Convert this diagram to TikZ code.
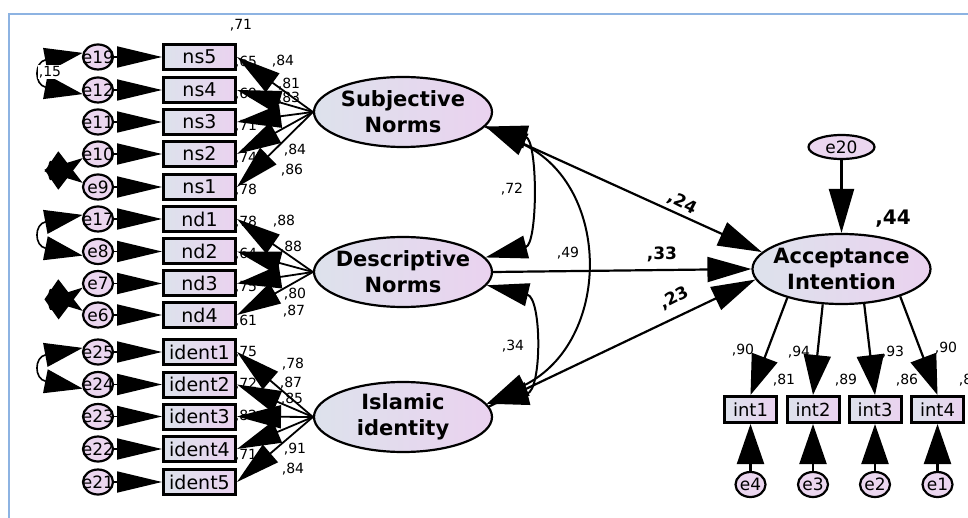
\documentclass[tikz,border=0pt]{standalone}
\usepackage{fontspec}
\setmainfont{DejaVu Sans}
\usetikzlibrary{arrows.meta,shapes.geometric}
\definecolor{framec}{HTML}{8DB3E2}
\definecolor{cgray}{HTML}{DDE2EC}
\definecolor{cpurp}{HTML}{EAD2EF}
\definecolor{cpink}{HTML}{EBD6EF}
\newcommand{\fz}[1]{\fontsize{#1}{#1}\selectfont}
\newcommand{\zw}[1]{\makebox[0pt]{#1}}
\begin{document}
\begin{tikzpicture}[x=1pt,y=-1pt,
  latent/.style={ellipse, draw, line width=2.2pt, minimum width=178pt, minimum height=70pt,
     inner xsep=-20pt, inner ysep=0pt, left color=cgray, right color=cpurp, align=center,
     font=\fontsize{21}{26}\selectfont\bfseries},
  obsbox/.style={rectangle, draw, line width=3pt, minimum width=72pt, minimum height=25pt,
     inner sep=0pt, left color=cgray, right color=cpurp, font=\fz{19}},
  intbox/.style={obsbox, minimum width=52pt, minimum height=26pt, font=\fz{18}},
  err/.style={ellipse, draw, line width=2.2pt, minimum width=30pt, minimum height=25pt,
     inner sep=0pt, fill=cpink, font=\fz{17}},
  errtop/.style={err, minimum width=66pt, minimum height=24pt},
  num/.style={font=\fz{14}, inner sep=0pt},
  bnum/.style={font=\fz{17}\bfseries, inner sep=0pt},
  errarr/.style={line width=1.8pt, -{Triangle[length=45pt,width=21pt]}},
  ind/.style={line width=1.8pt, -{Triangle[length=44pt,width=23pt]}},
  patharr/.style={line width=2.2pt, -{Triangle[length=44pt,width=25pt]}},
  intarr/.style={line width=2.2pt, -{Triangle[length=40pt,width=27pt]}},
  cov/.style={line width=2pt, {Triangle[length=42pt,width=23pt]}-{Triangle[length=42pt,width=23pt]}},
  ecov/.style={line width=1.6pt, {Triangle[length=38pt,width=24pt]}-{Triangle[length=38pt,width=24pt]}}
]
\useasboundingbox (0,0) rectangle (968,518);
\draw[framec, line width=2pt] (9,518) -- (9,14) -- (968,14);

% latent variables
\node[latent] (SN) at (403,112) {Subjective\\Norms};
\node[latent] (DN) at (403,272) {Descriptive\\Norms};
\node[latent] (II) at (403,417) {Islamic\\identity};
\node[latent] (AI) at (841.5,269) {Acceptance\\Intention};
\node[errtop] (e20) at (841.5,147) {e20};

% observed boxes
\foreach \n/\y in {ns5/57, ns4/90, ns3/122, ns2/154, ns1/187,
                   nd1/219, nd2/251.5, nd3/283.5, nd4/315,
                   ident1/352, ident2/384.5, ident3/416.5, ident4/449, ident5/482}
  \node[obsbox] (\n) at (199.5,\y) {\n};
\foreach \n/\x in {int1/750.5, int2/813, int3/875, int4/937.5}
  \node[intbox] (\n) at (\x,409.5) {\n};

% error terms
\foreach \n/\y in {e19/57, e12/90, e11/122, e10/154, e9/187,
                   e17/219, e8/251.5, e7/283.5, e6/315,
                   e25/352, e24/384.5, e23/416.5, e22/449, e21/482}
  \node[err] (\n) at (98,\y) {\zw{\n}};
\foreach \n/\x in {e4/750.5, e3/813, e2/875, e1/937.5}
  \node[err] (\n) at (\x,484.5) {\zw{\n}};

% squared multiple correlations (partly hidden)
\node[num] at (241,25) {,71};
\node[num] at (246,62) {,65};
\node[num] at (246,94) {,69};
\node[num] at (246,126) {,71};
\node[num] at (246,158) {,74};
\node[num] at (246,190) {,78};
\node[num] at (246,222) {,78};
\node[num] at (246,254) {,64};
\node[num] at (246,287) {,75};
\node[num] at (246,321) {,61};
\node[num] at (246,352) {,75};
\node[num] at (246,384) {,72};
\node[num] at (246,416) {,82};
\node[num] at (246,455) {,71};

% loadings
\node[num] at (283,61) {,84};
\node[num] at (289,84) {,81};
\node[num] at (289,98) {,83};
\node[num] at (295,150) {,84};
\node[num] at (292,170) {,86};
\node[num] at (284,221) {,88};
\node[num] at (291,247) {,88};
\node[num] at (295,294) {,80};
\node[num] at (294,311) {,87};
\node[num] at (293,364) {,78};
\node[num] at (291,383) {,87};
\node[num] at (292,399) {,85};
\node[num] at (295,449) {,91};
\node[num] at (293,469) {,84};

% intention loadings and R2
\node[num] at (743,350) {,90};
\node[num] at (784,380) {,81};
\node[num] at (799,352) {,94};
\node[num] at (846,380) {,89};
\node[num] at (893,352) {,93};
\node[num] at (907,380) {,86};
\node[num] at (946,348) {,90};
\node[num] at (970,380) {,81};

% error -> indicator arrows
\foreach \e/\b in {e19/ns5, e12/ns4, e11/ns3, e10/ns2, e9/ns1,
                   e17/nd1, e8/nd2, e7/nd3, e6/nd4,
                   e25/ident1, e24/ident2, e23/ident3, e22/ident4, e21/ident5}
  \draw[errarr] (\e) -- (\b);

% latent -> indicator arrows
\foreach \b in {ns5, ns4, ns3, ns2, ns1}
  \draw[ind] (SN.west) -- (\b.east);
\foreach \b in {nd1, nd2, nd3, nd4}
  \draw[ind] (DN.west) -- (\b.east);
\foreach \b in {ident1, ident2, ident3, ident4, ident5}
  \draw[ind] (II.west) -- (\b.east);

% error covariances
\draw[ecov] (e19.165) .. controls (34,62) and (34,85) .. (e12.195);
\draw[ecov] (e10.195) .. controls (48,182) and (48,159) .. (e9.165);
\draw[ecov] (e17.165) .. controls (34,224) and (34,246) .. (e8.195);
\draw[ecov] (e7.195) .. controls (48,312) and (48,287) .. (e6.165);
\draw[ecov] (e25.165) .. controls (34,357) and (34,379) .. (e24.195);
\node[num, fill=white, inner sep=1pt] at (50,72) {,15};

% latent covariances
\draw[cov] (SN.-10) .. controls (538,140) and (538,244) .. (DN.10);
\draw[cov] (DN.-9) .. controls (542,298) and (542,390) .. (II.9);
\draw[cov] (SN.-10) .. controls (612,186) and (612,342) .. (II.9);
\node[num] at (512,189) {,72};
\node[num] at (568,253) {,49};
\node[num] at (513,346) {,34};

% structural paths
\draw[patharr] (SN.-10) -- (AI.168);
\draw[patharr] (DN.east) -- (AI.west);
\draw[patharr] (II.7) -- (AI.-173);
\draw[patharr] (e20) -- (AI);
\node[bnum, rotate=-27] at (682,203) {,24};
\node[bnum] at (662,254) {,33};
\node[bnum, rotate=27] at (674,298) {,23};
\node[font=\fz{20}\bfseries, inner sep=0pt] at (893,219) {,44};

% intention indicators
\draw[intarr] (AI.-152) -- (int1.north);
\draw[intarr] (AI.-118) -- (int2.north);
\draw[intarr] (AI.-57) -- (int3.north);
\draw[intarr] (AI.-25) -- (int4.north);
\foreach \e/\b in {e4/int1, e3/int2, e2/int3, e1/int4}
  \draw[intarr] (\e) -- (\b);
\end{tikzpicture}
\end{document}
